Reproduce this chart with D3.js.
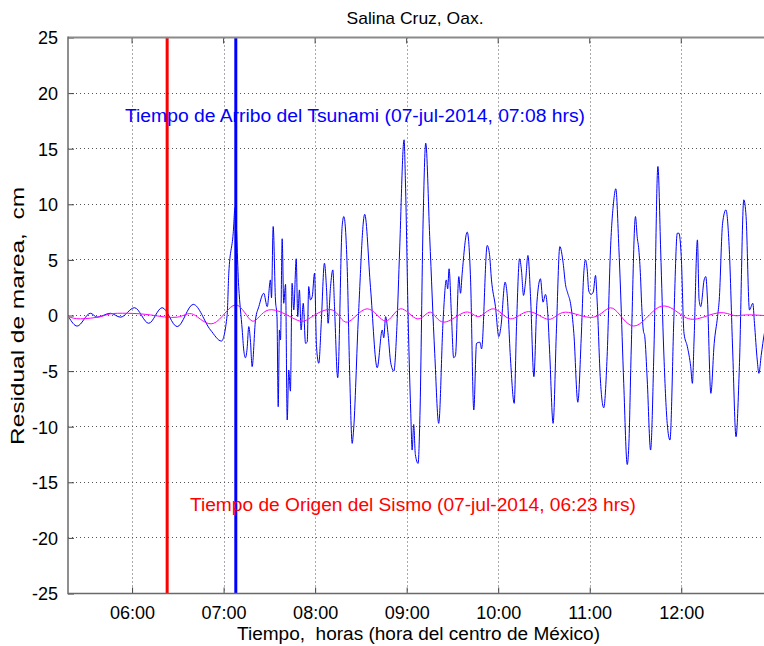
<!DOCTYPE html>
<html><head><meta charset="utf-8">
<script src="https://cdn.jsdelivr.net/npm/d3@7"></script>
<style>
html,body{margin:0;padding:0;background:#fff;overflow:hidden}
text{font-family:"Liberation Sans",Arial,sans-serif;white-space:pre}
</style></head>
<body><svg id="c" width="764" height="646"></svg>
<script>
// ---- data (minutes since 00:00, 07-jul-2014) ----
const tiempoResidual = [318.5,324.0,332.7,337.1,345.8,352.4,361.6,370.9,379.7,389.6,400.1,411.4,418.6,422.3,423.4,426.3,427.5,429.9,432.2,433.2,434.3,435.4,436.5,437.6,438.7,440.9,443.1,446.3,448.6,450.7,451.4,452.5,454.0,455.0,455.8,456.6,457.3,458.4,459.4,460.6,461.7,462.7,463.8,464.9,466.0,467.6,468.6,469.7,470.8,472.2,473.7,474.8,475.8,476.9,478.1,479.6,480.9,482.4,484.0,486.1,487.5,488.5,490.1,491.6,492.7,494.8,497.7,498.8,501.0,502.7,504.3,505.1,508.4,512.5,516.3,520.7,524.0,525.0,526.2,527.9,529.5,531.6,533.6,535.4,538.3,539.2,541.0,542.7,543.6,544.6,545.7,547.5,548.7,550.8,552.5,555.1,558.4,561.0,563.9,566.0,566.9,567.8,569.3,570.8,572.0,574.2,575.3,576.4,579.7,581.9,584.0,585.8,588.0,589.1,592.8,594.3,595.6,598.2,600.4,601.8,604.5,605.8,608.1,610.5,612.0,614.0,615.3,616.6,617.9,619.5,621.2,623.4,625.4,627.7,629.4,631.0,632.5,633.8,636.0,638.2,640.4,642.6,644.1,645.6,647.4,649.6,652.2,654.4,656.1,657.2,658.3,659.4,660.9,662.3,663.8,664.9,667.0,669.2,671.4,673.6,675.8,677.1,679.1,680.2,682.3,684.6,685.6,687.2,690.0,691.1,692.2,693.3,694.0,695.1,696.1,697.7,699.9,702.1,704.7,706.5,708.5,710.8,712.6,715.2,717.4,718.5,720.0,721.8,724.0,726.2,727.3,728.4,730.6,731.7,732.8,735.0,736.1,737.2,739.4,741.6,743.8,744.9,747.1,749.3,751.5,753.7,755.9,758.1,761.0,762.5,764.7,766.9,768.0,769.8,770.9,772.4,774.5,777.0];
const residualCm = [-0.15,-0.95,0.2,-0.15,0.2,-0.15,0.7,-0.7,0.7,-1.0,1.0,-1.3,-2.3,0,3.8,7.4,9.7,2.6,-1.3,-3.1,-3.8,-3.0,-1.0,-2.3,-4.6,-0.4,0.8,2.0,0.8,3.2,1.6,8.0,1.4,-0.1,-8.2,-1.3,-2.2,6.9,1.1,2.8,-9.4,-4.9,-6.8,2.9,0.5,5.1,-0.1,2.3,-1.3,1.1,-2.5,-2.4,2.6,1.4,1.7,3.8,-2.8,-4.3,-0.7,4.7,2.3,-0.7,2.6,4.1,0.8,-5.6,8.0,8.9,4.4,-5.5,-11.5,-10.5,0,9.1,2.5,-4.7,-1.3,-2.0,-0.1,-1.8,-4.2,-5.0,-1.0,5.9,15.8,12.0,-0.4,-8.8,-12.1,-9.8,-12.5,-13.3,-9.0,8.6,15.5,7.1,-3.4,-9.7,-0.4,3.2,2.4,4.2,0.2,-3.8,-3.6,3.5,2.0,3.8,7.5,3.2,-8.5,-2.5,-2.4,-3.0,6.3,5.5,3.2,0.8,-1.9,-1.0,3.0,2.0,-4.0,-7.9,-1.0,5.1,4.0,1.8,3.0,5.4,1.7,-5.5,1.2,3.3,1.2,1.9,0.2,-3.5,-9.7,-1.2,6.2,4.7,2.8,2.0,1.1,-1.6,-7.8,-2.1,3.8,5.0,4.2,2.2,1.9,2.1,3.6,1.2,-5.8,-8.3,-3.7,5.9,10.4,11.4,6.1,2.3,-6.1,-13.4,-11.8,-3.1,8.9,7.1,5.9,3.5,1.1,-1.3,-1.9,-5.8,-12.1,-3.1,13.4,5.9,-3.1,-9.7,-11.2,-0.1,7.4,7.4,5.3,-1.6,-2.8,-4.6,-6.1,-2.2,6.8,1.4,0.8,3.2,3.5,1.4,-7.0,-2.5,-0.1,1.4,8.3,9.5,5.9,-3.1,-10.9,-4.6,10.4,8.9,0.5,1.1,-0.7,-4.0,-5.2,-3.6,-1.6,-0.5];
const tiempoMarea = [318.3,326.2,339.3,345.8,356.8,372.1,389.6,400.2,413.6,427.8,438.7,449.6,467.1,476.9,491.2,501.0,514.1,526.1,535.9,546.9,555.6,564.3,578.5,587.3,597.1,608.0,620.0,633.1,644.1,662.6,675.1,688.9,705.3,719.5,730.5,744.7,754.5,762.1,774.5,780];
const mareaCm = [-0.1,-0.3,-0.1,0.15,0.2,0.05,-0.15,0.1,-0.7,0.95,-0.5,0.5,-0.35,-0.2,0.5,-0.6,0.6,-0.5,0.6,-0.3,0.3,-0.6,0.3,-0.1,0.6,-0.3,0.35,-0.35,0.3,-0.15,0.65,-0.95,0.75,0.1,-0.3,0.25,0,0.05,0,0];
const tiempoSismo = 383;   // 06:23
const tiempoArribo = 428;  // 07:08
const yTicks = [25,20,15,10,5,0,-5,-10,-15,-20,-25];
const xTickMin = [360,420,480,540,600,660,720];
const xTickLabels = ["06:00","07:00","08:00","09:00","10:00","11:00","12:00"];
const titulo = "Salina Cruz, Oax.";
const ejeX = "Tiempo,  horas (hora del centro de México)";
const ejeY = "Residual de marea,  cm";
const textoArribo = "Tiempo de Arribo del Tsunami (07-jul-2014, 07:08 hrs)";
const textoSismo = "Tiempo de Origen del Sismo (07-jul-2014, 06:23 hrs)";

// ---- layout ----
const L = 68, T = 37.5, B = 593.5;
const x = d3.scaleLinear().domain([318, 780]).range([L, L + (780-318)*91.53/60]);
const y = d3.scaleLinear().domain([-25, 25]).range([B, T]);
const R = x.range()[1];
const svg = d3.select("#c");
const fs = 18;
const ff = '"Liberation Sans",Arial,sans-serif';

svg.append("clipPath").attr("id","clip").append("rect")
  .attr("x",L).attr("y",T).attr("width",R-L).attr("height",B-T);

// grid
const grid = svg.append("g");
grid.selectAll(".gy").data(yTicks).join("line")
  .attr("x1",L).attr("x2",R).attr("y1",d=>y(d)).attr("y2",d=>y(d))
  .attr("stroke","#555").attr("stroke-width",1).attr("stroke-dasharray","1,3").attr("shape-rendering","crispEdges");
grid.selectAll(".gx").data(xTickMin).join("line")
  .attr("x1",d=>Math.round(x(d))+0.5).attr("x2",d=>Math.round(x(d))+0.5).attr("y1",T).attr("y2",B)
  .attr("stroke","#555").attr("stroke-width",1).attr("stroke-dasharray","1,3");

// axes via d3 axis (inward ticks)
const yAx = d3.axisLeft(y).tickValues(yTicks).tickSizeInner(-6).tickSizeOuter(0).tickPadding(10).tickFormat(d=>String(d));
const gy = svg.append("g").attr("transform",`translate(${L},0)`).call(yAx);
gy.select(".domain").remove();
gy.selectAll("line").attr("stroke","#444");
gy.selectAll("text").attr("font-size",fs).attr("fill","#000").attr("dy","0.36em").attr("font-family",ff);

const xAx = d3.axisBottom(x).tickValues(xTickMin).tickSizeInner(-6).tickSizeOuter(0).tickPadding(13)
  .tickFormat((d,i)=>xTickLabels[i]);
const gx = svg.append("g").attr("transform",`translate(0,${B})`).call(xAx);
gx.select(".domain").remove();
gx.selectAll("line").attr("stroke","#444");
gx.selectAll("text").attr("font-size",fs).attr("fill","#000").attr("font-family",ff);
// top ticks
svg.append("g").selectAll("line").data(xTickMin).join("line")
  .attr("x1",d=>x(d)).attr("x2",d=>x(d)).attr("y1",T).attr("y2",T+6).attr("stroke","#444");

// series
const plot = svg.append("g").attr("clip-path","url(#clip)");
const marea = tiempoMarea.map((t,i)=>[t,mareaCm[i]]);
const resid = tiempoResidual.map((t,i)=>[t,residualCm[i]]);
plot.append("path").datum(resid)
  .attr("d", d3.line().x(d=>x(d[0])).y(d=>y(d[1])).curve(d3.curveMonotoneX))
  .attr("fill","none").attr("stroke","#0000ff").attr("stroke-width",1);
plot.append("path").datum(marea)
  .attr("d", d3.line().x(d=>x(d[0])).y(d=>y(d[1])).curve(d3.curveNatural))
  .attr("fill","none").attr("stroke","#ff00ff").attr("stroke-width",1);

// event lines
svg.append("line").attr("x1",x(tiempoSismo)).attr("x2",x(tiempoSismo)).attr("y1",T).attr("y2",B)
  .attr("stroke","#ff0000").attr("stroke-width",3);
svg.append("line").attr("x1",x(tiempoArribo)).attr("x2",x(tiempoArribo)).attr("y1",T).attr("y2",B)
  .attr("stroke","#0000ff").attr("stroke-width",3);

// frame
svg.append("line").attr("x1",L).attr("x2",R).attr("y1",T).attr("y2",T).attr("stroke","#8a8a8a").attr("stroke-width",2);
svg.append("line").attr("x1",L).attr("x2",R).attr("y1",B).attr("y2",B).attr("stroke","#6a6a6a").attr("stroke-width",1.5);
svg.append("line").attr("x1",L).attr("x2",L).attr("y1",T-1).attr("y2",B+0.75).attr("stroke","#6a6a6a").attr("stroke-width",1.5);

// texts
function txt(s, xx, yy, len, anchor, fill, tr){
  const t = svg.append("text").attr("font-size",fs).attr("fill",fill||"#000")
    .attr("text-anchor",anchor||"start").attr("textLength",len).attr("lengthAdjust","spacingAndGlyphs").text(s);
  if (tr) t.attr("transform",tr).attr("x",0).attr("y",0); else t.attr("x",xx).attr("y",yy);
  return t;
}
txt(titulo, 415, 24, 137, "middle").attr("font-size",17);
txt(ejeX, 418.5, 640, 363, "middle");
txt(ejeY, 0, 0, 258, "middle", "#000", "translate(24,316) rotate(-90)");
txt(textoArribo, 125, 122, 460, "start", "#0000ff");
txt(textoSismo, 190, 511, 446, "start", "#ff0000");
</script>
</body></html>
